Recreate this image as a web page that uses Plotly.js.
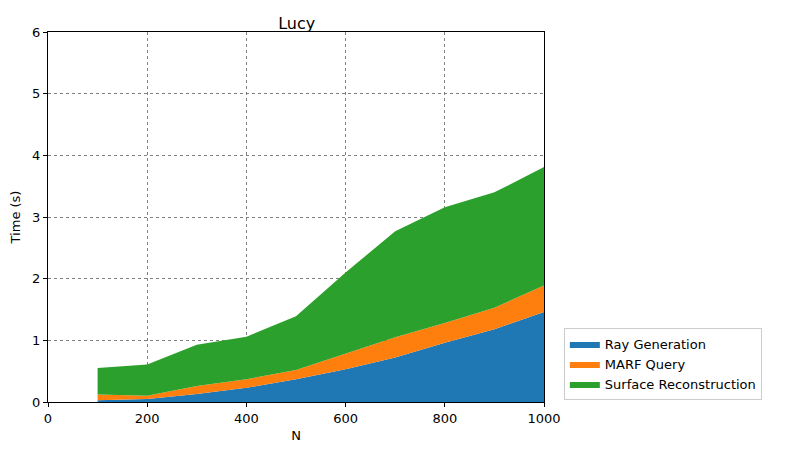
<!DOCTYPE html>
<html><head><meta charset="utf-8">
<script src="https://cdn.plot.ly/plotly-3.0.1.min.js"></script>
<style>body{margin:0}</style></head><body>
<div id="c" style="width:785px;height:455px"></div>
<script>
const N = [100,200,300,400,500,600,700,800,900,1000];
const rayGen = [0.03,0.05,0.13,0.23,0.37,0.53,0.72,0.96,1.18,1.46];
const marf = [0.09,0.05,0.13,0.14,0.15,0.25,0.33,0.32,0.35,0.43];
const surface = [0.43,0.51,0.67,0.69,0.87,1.32,1.72,1.88,1.87,1.92];
const names = ['Ray Generation','MARF Query','Surface Reconstruction'];
const colors = ['#1f77b4','#ff7f0e','#2ca02c'];
const series = [rayGen, marf, surface];
const traces = series.map((s,i)=>({x:N,y:s,name:names[i],type:'scatter',mode:'lines',
  stackgroup:'one',line:{width:0,color:colors[i]},fillcolor:colors[i]}));
const ax = {showgrid:true,gridcolor:'#808080',griddash:'dot',gridwidth:1,zeroline:false,
  showline:true,mirror:true,linecolor:'black',ticks:'outside',ticklen:4,tickcolor:'black',
  tickfont:{size:13,color:'black'}};
Plotly.newPlot('c',traces,{
  width:785,height:455,margin:{l:48,r:241,t:32,b:53},
  paper_bgcolor:'white',plot_bgcolor:'white',
  font:{family:'DejaVu Sans',color:'black'},
  title:{text:'Lucy',x:0.378,xanchor:'center',y:0.96,font:{size:16}},
  xaxis:Object.assign({},ax,{range:[0,1000],dtick:200,title:{text:'N',font:{size:13},standoff:6}}),
  yaxis:Object.assign({},ax,{range:[0,6],dtick:1,title:{text:'Time (s)',font:{size:13},standoff:8}}),
  legend:{x:1.04,xanchor:'left',y:0.005,yanchor:'bottom',bordercolor:'#cccccc',borderwidth:1,
    font:{size:13},traceorder:'normal'},
  showlegend:true
},{displayModeBar:false});
</script></body></html>
